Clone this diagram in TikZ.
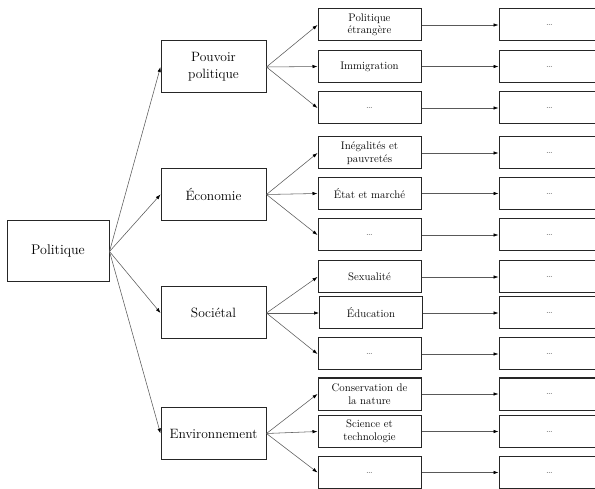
\documentclass[tikz,border=0pt]{standalone}
\usepackage{fontspec}
\usetikzlibrary{arrows.meta}
\newcommand{\mydots}{\textcolor{black!55}{\fontsize{10}{11}\selectfont\dots}}
\begin{document}
\begin{tikzpicture}[x=1pt,y=-1pt,
 box/.style={draw=black!85, line width=1pt, inner sep=0pt, align=center},
 lvlzero/.style={box, minimum width=102pt, minimum height=61pt, font=\fontsize{14}{17}\selectfont},
 lvlone/.style={box, minimum width=105pt, minimum height=52pt, font=\fontsize{13.5}{17}\selectfont},
 lvltwo/.style={box, minimum width=103pt, minimum height=32pt, font=\fontsize{11}{12.5}\selectfont},
 lvlthree/.style={box, minimum width=101pt, minimum height=32pt},
 conn/.style={draw=black!65, line width=0.55pt, -{Latex[length=5pt,width=3.5pt,color=black]}}
]
\useasboundingbox (0,0) rectangle (595,489);
\clip (0,0) rectangle (595,489);

\node[lvlzero] (P) at (58,251.5) {Politique};
\node[lvlone] (A) at (213.5,67) {Pouvoir\\politique};
\node[lvlone] (B) at (213.5,194.5) {Économie};
\node[lvlone] (C) at (213.5,313) {Sociétal};
\node[lvlone] (D) at (213.5,433.5) {Environnement};

\foreach \n in {A,B,C,D} \draw[conn] (P.east) -- (\n.west);

\foreach \i/\x/\y/\t/\p in {
  1/369.5/25/{Politique\\étrangère}/A,
  2/369.5/66.5/{Immigration}/A,
  3/369.5/108/{\mydots}/A,
  4/369.5/153/{Inégalités et\\pauvretés}/B,
  5/369.5/193.5/{État et marché}/B,
  6/369.5/235/{\mydots}/B,
  7/369.5/277/{Sexualité}/C,
  8/371/313/{Éducation}/C,
  9/369.5/354/{\mydots}/C,
  10/369.5/394/{Conservation de\\la nature}/D,
  11/369.5/431.5/{Science et\\technologie}/D,
  12/369.5/472.5/{\mydots}/D}
{
  \node[lvltwo] (m\i) at (\x,\y) {\t};
  \node[lvlthree] (r\i) at (549.5,\y) {\mydots};
  \draw[conn] (\p.east) -- (m\i.west);
  \draw[conn] (m\i.east) -- (r\i.west);
}
\end{tikzpicture}
\end{document}
